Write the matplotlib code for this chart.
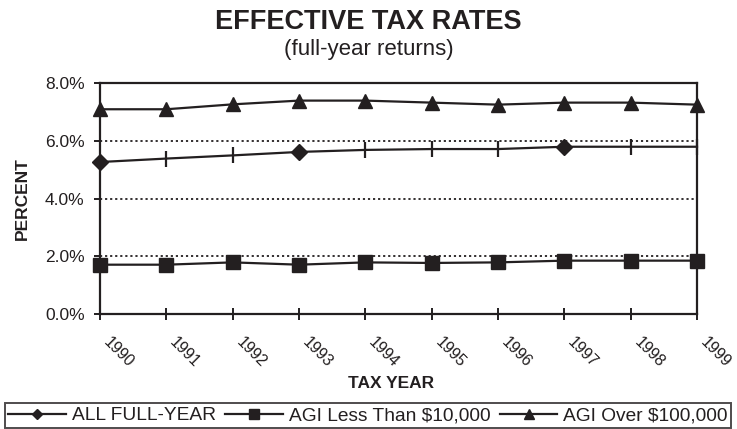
import matplotlib
matplotlib.use('Agg')
import matplotlib.pyplot as plt
from matplotlib.ticker import FuncFormatter
from matplotlib.transforms import ScaledTranslation

years = [1990, 1991, 1992, 1993, 1994, 1995, 1996, 1997, 1998, 1999]
all_full_year = [5.27, 5.39, 5.50, 5.62, 5.69, 5.72, 5.72, 5.80, 5.80, 5.80]
agi_under_10k = [1.71, 1.71, 1.79, 1.71, 1.79, 1.77, 1.79, 1.85, 1.85, 1.85]
agi_over_100k = [7.10, 7.10, 7.27, 7.40, 7.40, 7.33, 7.26, 7.33, 7.33, 7.26]
y_ticks = [0, 2, 4, 6, 8]

ink = '#231f20'
plt.rcParams['font.family'] = ['Liberation Sans', 'DejaVu Sans']
plt.rcParams['text.color'] = ink

fig = plt.figure(figsize=(7.37, 4.29), dpi=100)
ax = fig.add_axes([100 / 737, 1 - 314 / 429, 597 / 737, (314 - 83.3) / 429])

# the source chart shows diamonds only on some points, plain ticks on the rest
diamond_idx = [0, 3, 7]
tick_idx = [i for i in range(len(years)) if i not in diamond_idx]
ax.plot(years, all_full_year, color=ink, lw=1.6, marker='D', ms=8,
        markevery=diamond_idx, clip_on=False, label='ALL FULL-YEAR', zorder=3)
ax.plot(years, all_full_year, color=ink, lw=0, marker='|', ms=11, mew=1.6,
        markevery=tick_idx, clip_on=False, zorder=3)
ax.plot(years, agi_under_10k, color=ink, lw=1.6, marker='s', ms=9.5,
        clip_on=False, label='AGI Less Than $10,000', zorder=3)
ax.plot(years, agi_over_100k, color=ink, lw=1.6, marker='^', ms=10,
        clip_on=False, label='AGI Over $100,000', zorder=3)

ax.set_xlim(1990, 1999)
ax.set_ylim(0, 8)
ax.set_xticks(years)
ax.set_yticks(y_ticks)
ax.yaxis.set_major_formatter(FuncFormatter(lambda v, p: '%.1f%%' % v))
for v in y_ticks[1:-1]:
    ax.axhline(v, color=ink, lw=1.3, ls=(0, (1.2, 1.6)), zorder=1)

for s in ax.spines.values():
    s.set_color(ink)
    s.set_linewidth(1.6)

ax.tick_params(axis='y', direction='out', length=4, width=1.4, color=ink,
               labelsize=12.5, pad=7, labelcolor=ink)
ax.tick_params(axis='x', direction='inout', length=9, width=1.4, color=ink,
               labelsize=11.5, pad=10, labelcolor=ink)
offset = ScaledTranslation(8 / 72, 0, fig.dpi_scale_trans)
for lab in ax.get_xticklabels():
    lab.set_rotation(-45)
    lab.set_ha('left')
    lab.set_va('top')
    lab.set_rotation_mode('anchor')
    lab.set_transform(lab.get_transform() + offset)

fig.text(0.5, 1 - 22 / 429, 'EFFECTIVE TAX RATES', ha='center', va='center',
         fontsize=19.5, fontweight='bold')
fig.text(0.5, 1 - 49 / 429, '(full-year returns)', ha='center', va='center',
         fontsize=16)
fig.text(391 / 737, 1 - 383 / 429, 'TAX YEAR', ha='center', va='center',
         fontsize=12.5, fontweight='bold')
fig.text(22 / 737, 1 - 199 / 429, 'PERCENT', ha='center', va='center',
         rotation=90, fontsize=12.5, fontweight='bold')

leg = fig.legend(loc='center', ncol=3,
                 bbox_to_anchor=(368 / 737, 1 - 415.5 / 429),
                 fontsize=13.8, frameon=True, fancybox=False, handlelength=3.0,
                 handletextpad=0.3, borderpad=0.2, borderaxespad=0,
                 markerscale=0.7, columnspacing=0.5)
leg.get_frame().set_edgecolor(ink)
leg.get_frame().set_linewidth(1.4)

fig.savefig('out.png', dpi=100)
